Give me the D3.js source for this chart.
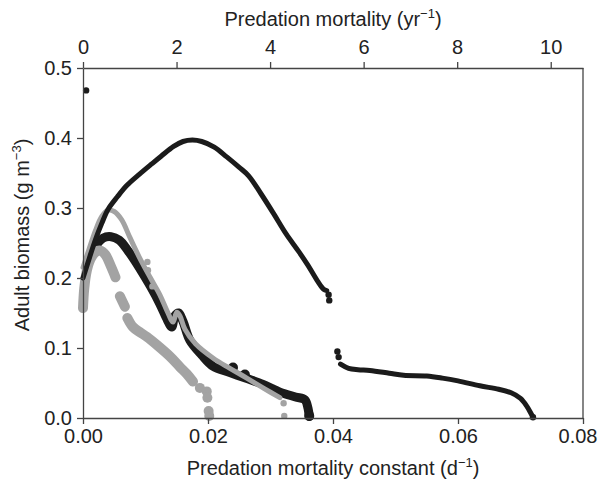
<!DOCTYPE html>
<html>
<head>
<meta charset="utf-8">
<script src="https://cdn.jsdelivr.net/npm/d3@7"></script>
<style>
  html, body { margin: 0; padding: 0; background: #fff; }
  svg text { font-family: "Liberation Sans", Arial, sans-serif; fill: #222; }
</style>
</head>
<body>
<svg id="chart" width="601" height="483"></svg>
<script>
// Adult biomass (g m^-3) against the predation mortality constant (d^-1).
// Each run is a list of [constant, biomass] pairs; null marks a gap in a run.

const xTicks = [0, 0.02, 0.04, 0.06, 0.08];
const yTicks = [0, 0.1, 0.2, 0.3, 0.4, 0.5];
const topTicks = [0, 2, 4, 6, 8, 10];

// black run, high-biomass branch
const blackUpper = [
  [0.0000, 0.200], [0.0010, 0.228], [0.0020, 0.255], [0.0030, 0.278], [0.0040, 0.298],
  [0.0055, 0.316], [0.0070, 0.332], [0.0090, 0.348], [0.0110, 0.363], [0.0125, 0.374],
  [0.0145, 0.388], [0.0160, 0.395], [0.0175, 0.397], [0.0190, 0.395], [0.0210, 0.387],
  [0.0230, 0.373], [0.0250, 0.358], [0.0265, 0.346], [0.0285, 0.320], [0.0305, 0.292],
  [0.0325, 0.263], [0.0345, 0.238], [0.0360, 0.218], [0.0375, 0.196], [0.0385, 0.184],
  [0.0390, 0.182]
];
// black run, tail beyond the collapse
const blackTail = [
  [0.0412, 0.077], [0.0425, 0.071], [0.0440, 0.069], [0.0459, 0.068], [0.0490, 0.064],
  [0.0513, 0.061], [0.0550, 0.060], [0.0575, 0.057], [0.0600, 0.053], [0.0635, 0.046],
  [0.0665, 0.041], [0.0685, 0.036], [0.0700, 0.028], [0.0710, 0.017], [0.0717, 0.006],
  [0.0720, 0.001]
];
// isolated black points
const blackDots = [
  [0.0005, 0.468], [0.0393, 0.176], [0.0394, 0.168], [0.0407, 0.095], [0.0409, 0.087],
  [0.0720, 0.001]
];

// black run, lower hump
const blackLower = [
  [0.0008, 0.222], [0.0020, 0.245], [0.0032, 0.257], [0.0045, 0.259], [0.0058, 0.254],
  [0.0072, 0.239], [0.0090, 0.215], [0.0108, 0.188], [0.0123, 0.163], [0.0135, 0.140],
  [0.0142, 0.130], [0.0147, 0.146], [0.0153, 0.150], [0.0160, 0.138], [0.0171, 0.111],
  [0.0190, 0.090], [0.0208, 0.074], [0.0235, 0.065], [0.0260, 0.057], [0.0288, 0.048],
  [0.0315, 0.037], [0.0340, 0.030], [0.0355, 0.026], [0.0360, 0.014], [0.0362, 0.002]
];
const blackLowerDots = [[0.0240, 0.072], [0.0259, 0.062], [0.0362, 0.003]];

// grey run, upper hump
const greyUpper = [
  [0.0000, 0.215], [0.0010, 0.242], [0.0020, 0.268], [0.0030, 0.288], [0.0040, 0.297],
  [0.0050, 0.295], [0.0062, 0.283], [0.0075, 0.258], [0.0091, 0.228], [0.0108, 0.200],
  [0.0123, 0.176], [0.0135, 0.152], [0.0144, 0.137], [0.0150, 0.151], [0.0155, 0.146],
  [0.0163, 0.127], [0.0180, 0.106], [0.0209, 0.085], [0.0235, 0.071], [0.0262, 0.057],
  [0.0290, 0.042], [0.0315, 0.029]
];
const greyUpperDots = [
  [0.0103, 0.223], [0.0104, 0.211], [0.0111, 0.188], [0.0321, 0.021], [0.0322, 0.003]
];

// grey run, lower hump (broken into pieces)
const greyLower = [
  [0.0000, 0.157], [0.0002, 0.185], [0.0006, 0.210], [0.0012, 0.227], [0.0020, 0.237],
  [0.0028, 0.239], [0.0036, 0.233], [0.0045, 0.216], [0.0052, 0.201],
  null,
  [0.0059, 0.174], [0.0067, 0.159],
  null,
  [0.0071, 0.143], [0.0080, 0.130], [0.0092, 0.122], [0.0102, 0.116], [0.0120, 0.103],
  [0.0139, 0.088], [0.0155, 0.073], [0.0166, 0.063], [0.0176, 0.052]
];
const greyLowerDots = [
  [0.0187, 0.043], [0.0198, 0.038], [0.0199, 0.029], [0.0201, 0.010], [0.0202, 0.003]
];

const BLACK = "#1b1b1b";
const GREY = "#a3a3a3";

const svg = d3.select("#chart");
const plotLeft = 83, plotRight = 583, plotTop = 68, plotBottom = 418;

const x = d3.scaleLinear().domain([0, 0.08]).range([plotLeft, plotRight]);
const xTop = d3.scaleLinear().domain([0, 10.69]).range([plotLeft, plotRight]);
const y = d3.scaleLinear().domain([0, 0.5]).range([plotBottom, plotTop]);

const line = d3.line()
  .defined(d => d !== null)
  .x(d => x(d[0]))
  .y(d => y(d[1]))
  .curve(d3.curveCatmullRom.alpha(0.5));

const marks = svg.append("g");

function run(data, colour, width) {
  marks.append("path")
    .datum(data)
    .attr("d", line)
    .attr("fill", "none")
    .attr("stroke", colour)
    .attr("stroke-width", width)
    .attr("stroke-linecap", "round")
    .attr("stroke-linejoin", "round");
}
function dots(data, colour, r) {
  marks.append("g").selectAll("circle")
    .data(data)
    .join("circle")
    .attr("cx", d => x(d[0]))
    .attr("cy", d => y(d[1]))
    .attr("r", r)
    .attr("fill", colour);
}

run(blackLower, BLACK, 9);
dots(blackLowerDots, BLACK, 5);
run(greyUpper, GREY, 5);
dots(greyUpperDots, GREY, 3.2);
run(greyLower, GREY, 10);
dots(greyLowerDots, GREY, 5);
run(blackUpper, BLACK, 5);
run(blackTail, BLACK, 5);
dots(blackDots, BLACK, 3.2);

// axes
const axisColour = "#444";
const fontSize = 20;

const gx = svg.append("g")
  .attr("transform", `translate(0,${plotBottom})`)
  .call(d3.axisBottom(x).tickValues(xTicks).tickFormat(d3.format(".2f"))
    .tickSize(6).tickPadding(5).tickSizeOuter(0));
const gy = svg.append("g")
  .attr("transform", `translate(${plotLeft},0)`)
  .call(d3.axisLeft(y).tickValues(yTicks).tickFormat(d3.format(".1f"))
    .tickSize(6).tickPadding(5).tickSizeOuter(0));
const gt = svg.append("g")
  .attr("transform", `translate(0,${plotTop})`)
  .call(d3.axisTop(xTop).tickValues(topTicks).tickFormat(d3.format("d"))
    .tickSize(6).tickPadding(8).tickSizeOuter(0));

[gx, gy, gt].forEach(g => {
  g.select(".domain").attr("stroke", axisColour).attr("stroke-width", 1.3);
  g.selectAll(".tick line").attr("stroke", axisColour).attr("stroke-width", 1.3);
  g.selectAll(".tick text").attr("font-size", fontSize).attr("fill", "#222")
    .attr("font-family", "Liberation Sans, Arial, sans-serif");
});

// keep the last bottom tick label inside the page edge
gx.selectAll(".tick text")
  .filter(d => d === xTicks[xTicks.length - 1])
  .attr("text-anchor", "end")
  .attr("x", 14);

// right border
svg.append("line")
  .attr("x1", plotRight).attr("x2", plotRight).attr("y1", plotTop).attr("y2", plotBottom)
  .attr("stroke", axisColour).attr("stroke-width", 1.3);

// axis titles
const bottomTitle = svg.append("text")
  .attr("x", (plotLeft + plotRight) / 2).attr("y", 475)
  .attr("text-anchor", "middle").attr("font-size", fontSize);
bottomTitle.append("tspan").text("Predation mortality constant (d");
bottomTitle.append("tspan").attr("dy", -8).attr("font-size", 13).text("\u22121");
bottomTitle.append("tspan").attr("dy", 8).text(")");

const topTitle = svg.append("text")
  .attr("x", (plotLeft + plotRight) / 2).attr("y", 26)
  .attr("text-anchor", "middle").attr("font-size", fontSize);
topTitle.append("tspan").text("Predation mortality (yr");
topTitle.append("tspan").attr("dy", -8).attr("font-size", 13).text("\u22121");
topTitle.append("tspan").attr("dy", 8).text(")");

const yTitle = svg.append("text")
  .attr("transform", `translate(29,${(plotTop + plotBottom) / 2 - 8}) rotate(-90)`)
  .attr("text-anchor", "middle").attr("font-size", fontSize);
yTitle.append("tspan").text("Adult biomass (g m");
yTitle.append("tspan").attr("dy", -8).attr("font-size", 13).text("\u22123");
yTitle.append("tspan").attr("dy", 8).text(")");
</script>
</body>
</html>
